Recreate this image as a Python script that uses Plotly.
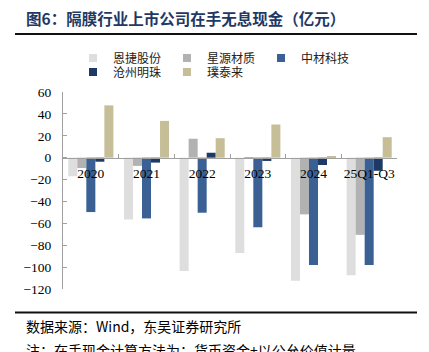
import plotly.graph_objects as go

categories = ["2020", "2021", "2022", "2023", "2024", "25Q1-Q3"]
enjie = [-17, -56.5, -103.5, -87, -112.5, -107.5]
xingyuan = [-9.5, -7.5, 17.3, -1, -51.8, -70.5]
zhongcai = [-49.7, -55.5, -50.3, -63.6, -98, -98]
cangzhou = [-3.7, -4.5, 4.5, -3, -6.7, -12]
putailai = [47.8, 33.6, 17.8, 30.3, 1.5, 18.7]

names = ["恩捷股份", "星源材质", "中材科技", "沧州明珠", "璞泰来"]
colors = ["#DEDEDE", "#B2B2B2", "#3A6094", "#1C3A64", "#C6BE96"]
series = [enjie, xingyuan, zhongcai, cangzhou, putailai]
legends = ["legend", "legend", "legend", "legend2", "legend2"]

title_text = "图6：隔膜行业上市公司在手无息现金（亿元）"
source_text = "数据来源：Wind，东吴证券研究所"
note_text = "注：在手现金计算方法为：货币资金+以公允价值计量"

W, H = 429, 352
L, R, T, B = 63, 32, 92, 63
PW = W - L - R
PH = H - T - B


def px_x(x):
    return (x - L) / PW


def px_y(y):
    return (H - B - y) / PH


fig = go.Figure()
for name, col, vals, lg in zip(names, colors, series, legends):
    fig.add_trace(go.Bar(x=categories, y=vals, name=name, marker=dict(color=col, line=dict(width=0)),
                         showlegend=False))
    fig.add_trace(go.Scatter(x=[None], y=[None], mode="markers", name=name, legend=lg,
                             marker=dict(symbol="square", size=8, color=col)))

ymin, ymax = -120, 60
zero_pos = (0 - ymin) / (ymax - ymin)

serif = "Liberation Serif"
cjk = "Noto Sans CJK SC"

fig.update_layout(
    width=W, height=H,
    margin=dict(l=L, r=R, t=T, b=B),
    paper_bgcolor="white", plot_bgcolor="white",
    barmode="group", bargap=0.19, bargroupgap=0,
    font=dict(family=serif, size=13, color="black"),
    xaxis=dict(
        type="category", range=[-0.5, 5.5], anchor="free", position=zero_pos,
        showline=True, linecolor="#A0A0A0", linewidth=1,
        ticks="inside", ticklen=4, tickcolor="#A0A0A0", tickson="boundaries",
        showgrid=False, zeroline=False, tickangle=0,
        tickfont=dict(family=serif, size=13.5, color="black"),
        ticklabelstandoff=3,
    ),
    yaxis=dict(
        range=[ymin, ymax], dtick=20, showline=True, linecolor="#A0A0A0", linewidth=1,
        ticks="inside", ticklen=4, tickcolor="#A0A0A0",
        showgrid=False, zeroline=False,
        tickfont=dict(family=serif, size=13.5, color="black"),
        ticklabelstandoff=8,
    ),
    legend=dict(orientation="h", x=px_x(73), xanchor="left", y=px_y(58), yanchor="middle",
                entrywidth=49, entrywidthmode="pixels", font=dict(family=cjk, size=12, color="#222"),
                bgcolor="rgba(0,0,0,0)", itemclick=False),
    legend2=dict(orientation="h", x=px_x(73), xanchor="left", y=px_y(72), yanchor="middle",
                 entrywidth=49, entrywidthmode="pixels", font=dict(family=cjk, size=12, color="#222"),
                 bgcolor="rgba(0,0,0,0)", itemclick=False),
    showlegend=True,
)

fig.add_annotation(text=title_text, xref="paper", yref="paper", x=px_x(24), y=px_y(18),
                   xanchor="left", yanchor="middle", showarrow=False,
                   font=dict(family=cjk, size=15.5, color="#1F3864", weight="bold"))
fig.add_annotation(text=source_text, xref="paper", yref="paper", x=px_x(24), y=px_y(326),
                   xanchor="left", yanchor="middle", showarrow=False,
                   font=dict(family=cjk, size=14, color="black"))
fig.add_annotation(text=note_text, xref="paper", yref="paper", x=px_x(24), y=px_y(350),
                   xanchor="left", yanchor="middle", showarrow=False,
                   font=dict(family=cjk, size=14, color="black"))

fig.add_shape(type="line", xref="paper", yref="paper", x0=px_x(15), x1=px_x(417),
              y0=px_y(34), y1=px_y(34), line=dict(color="#111111", width=2))
fig.add_shape(type="line", xref="paper", yref="paper", x0=px_x(15), x1=px_x(417),
              y0=px_y(312.5), y1=px_y(312.5), line=dict(color="#111111", width=2))

fig.write_html("out.html")
